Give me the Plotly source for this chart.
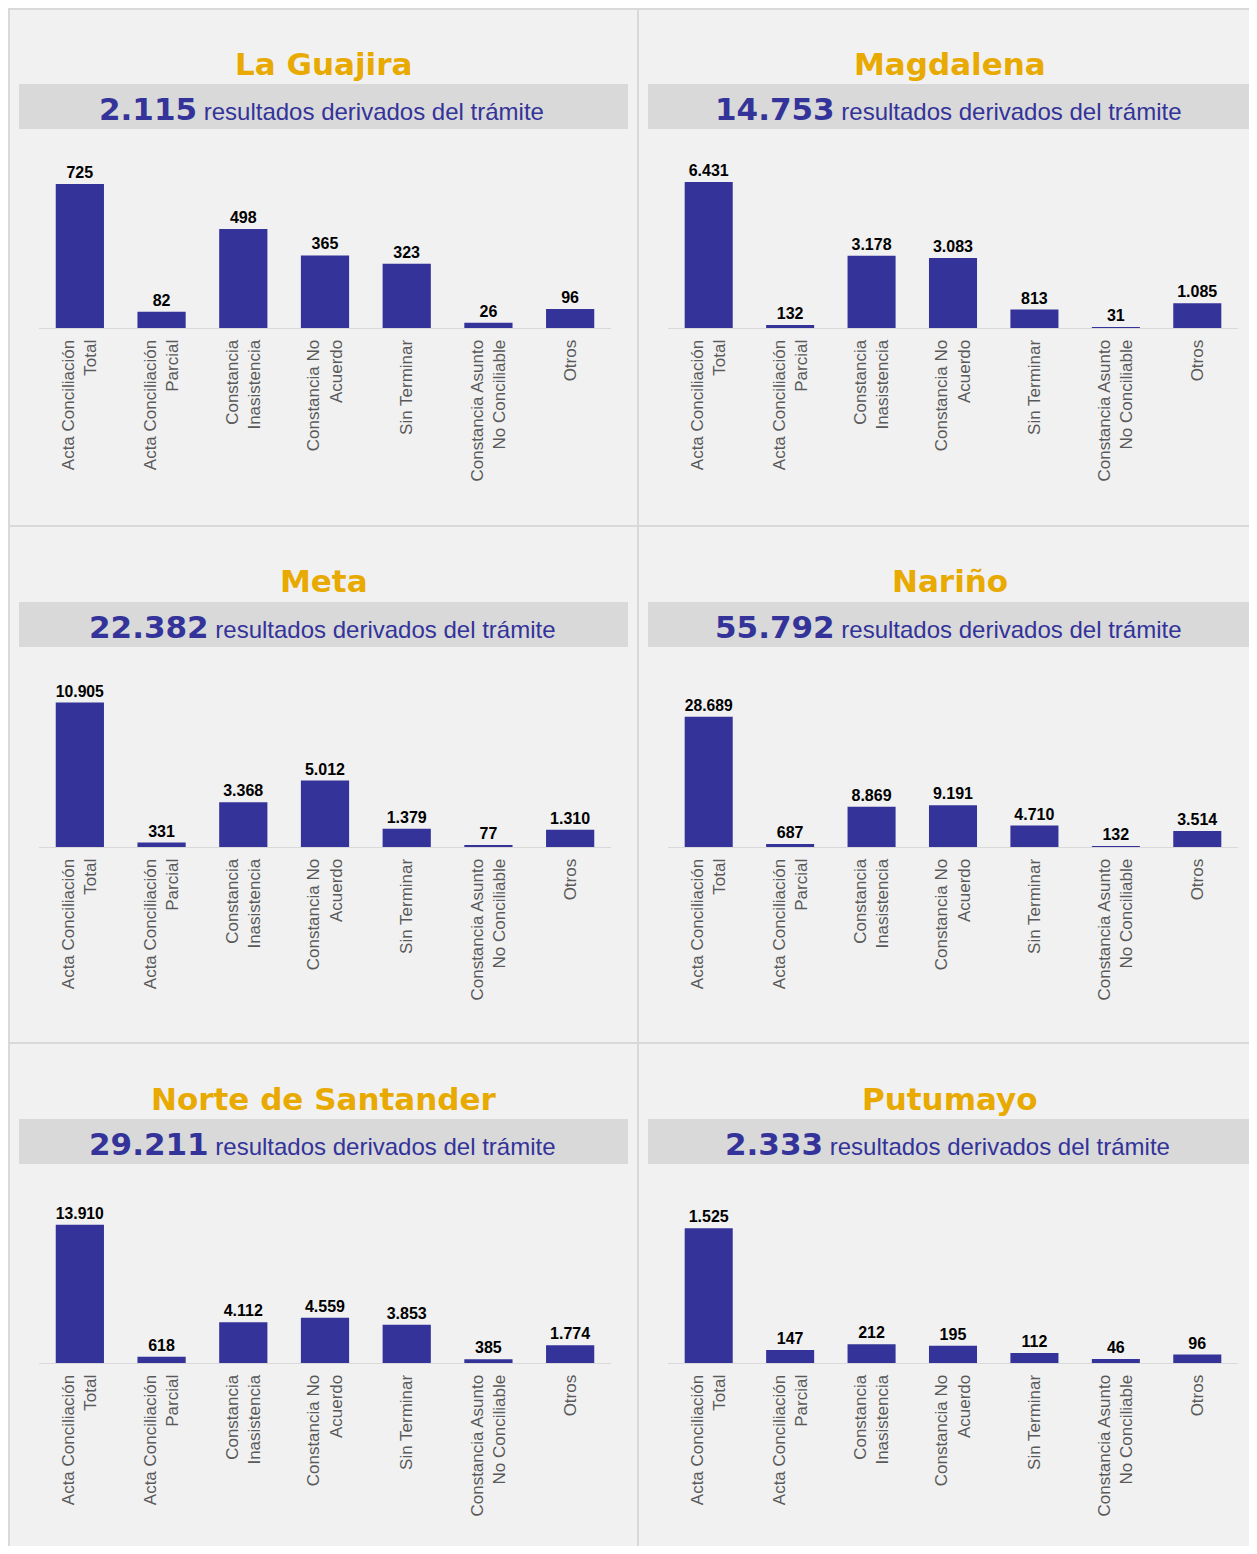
import plotly.graph_objects as go

W, H = 1241, 1538

departments = ["La Guajira", "Magdalena", "Meta", "Nariño", "Norte de Santander", "Putumayo"]
categories = [
    "Acta Conciliación<br>Total",
    "Acta Conciliación<br>Parcial",
    "Constancia<br>Inasistencia",
    "Constancia No<br>Acuerdo",
    "Sin Terminar",
    "Constancia Asunto<br>No Conciliable",
    "Otros",
]
la_guajira = [725, 82, 498, 365, 323, 26, 96]
magdalena = [6431, 132, 3178, 3083, 813, 31, 1085]
meta = [10905, 331, 3368, 5012, 1379, 77, 1310]
narino = [28689, 687, 8869, 9191, 4710, 132, 3514]
norte_santander = [13910, 618, 4112, 4559, 3853, 385, 1774]
putumayo = [1525, 147, 212, 195, 112, 46, 96]
series = [la_guajira, magdalena, meta, narino, norte_santander, putumayo]
axis_max = [800, 7000, 12000, 35000, 16000, 1800]

BAR = "#333399"
ORANGE = "#E8A900"
PANEL_BG = "#F1F1F1"
BORDER = "#D9D9D9"
BAND = "#D9D9D9"

OFF = 8  # page body margin offset


def fmt(v):
    return f"{v:,}".replace(",", ".")


fig = go.Figure()

# panel geometry in page pixels
panel_x = [(9, 638), (638, 1262)]
panel_y = [(9, 526), (526, 1043), (1043, 1580)]
plot_x = [(39, 611), (668, 1238)]
baseline = [328, 847, 1363]
plot_h = 159
title_y = [64, 581, 1099]
band_y = [(84, 129), (602, 647), (1119, 1164)]
band_x = [(19, 628), (648, 1251)]


def px(x):
    return (x - OFF) / W


def py(y):
    return 1 - (y - OFF) / H


shapes = []
annotations = []
for r in range(3):
    for c in range(2):
        x0, x1 = panel_x[c]
        y0, y1 = panel_y[r]
        shapes.append(dict(type="rect", xref="paper", yref="paper",
                           x0=px(x0), x1=px(x1), y0=py(y1), y1=py(y0),
                           fillcolor=PANEL_BG, line=dict(color=BORDER, width=2), layer="below"))
        bx0, bx1 = band_x[c]
        by0, by1 = band_y[r]
        shapes.append(dict(type="rect", xref="paper", yref="paper",
                           x0=px(bx0), x1=px(bx1), y0=py(by1), y1=py(by0),
                           fillcolor=BAND, line=dict(width=0), layer="below"))

for i, (name, vals) in enumerate(zip(departments, series)):
    r, c = divmod(i, 2)
    n = i + 1
    xa = "x" if n == 1 else f"x{n}"
    ya = "y" if n == 1 else f"y{n}"
    fig.add_trace(go.Bar(
        x=categories, y=vals, xaxis=xa, yaxis=ya,
        marker=dict(color=BAR, line=dict(width=0)),
        text=[fmt(v) for v in vals], textposition="outside",
        textfont=dict(family="Liberation Sans, Arial", size=16, color="#000000"),
        texttemplate="<b>%{text}</b>",
        cliponaxis=False, showlegend=False, width=0.59,
    ))
    xd = [px(plot_x[c][0]), px(plot_x[c][1])]
    yd = [py(baseline[r]), py(baseline[r] - plot_h)]
    fig.layout[f"xaxis{'' if n == 1 else n}"] = dict(
        domain=xd, anchor=ya, showline=True, linecolor=BORDER, linewidth=1,
        showgrid=False, zeroline=False, ticks="", tickangle=-90,
        ticklabelstandoff=4,
        tickfont=dict(family="Liberation Sans, Arial", size=17, color="#595959"),
        fixedrange=True,
    )
    fig.layout[f"yaxis{'' if n == 1 else n}"] = dict(
        domain=yd, anchor=xa, range=[0, axis_max[i]], visible=False,
        showgrid=False, zeroline=False, fixedrange=True,
    )
    cx = (band_x[c][0] + band_x[c][1]) / 2
    annotations.append(dict(
        xref="paper", yref="paper", x=px(cx), y=py(title_y[r]),
        xanchor="center", yanchor="middle", showarrow=False,
        text=f"<b>{name}</b>",
        font=dict(family="DejaVu Sans", size=31, color=ORANGE),
    ))
    total = sum(vals)
    annotations.append(dict(
        xref="paper", yref="paper", x=px(cx - 2), y=py((band_y[r][0] + band_y[r][1]) / 2 + 2),
        xanchor="center", yanchor="middle", showarrow=False,
        text=(f"<span style='font-family:DejaVu Sans;font-size:31px'><b>{fmt(total)}</b></span>"
              f" <span style='font-family:Liberation Sans;font-size:24px'>resultados derivados del trámite</span>"),
        font=dict(family="Liberation Sans", size=24, color=BAR),
    ))

fig.update_layout(
    width=W, height=H, margin=dict(l=0, r=0, t=0, b=0),
    paper_bgcolor="#FFFFFF", plot_bgcolor="rgba(0,0,0,0)",
    shapes=shapes, annotations=annotations, bargap=0.41,
)

fig.write_html("out.html")
